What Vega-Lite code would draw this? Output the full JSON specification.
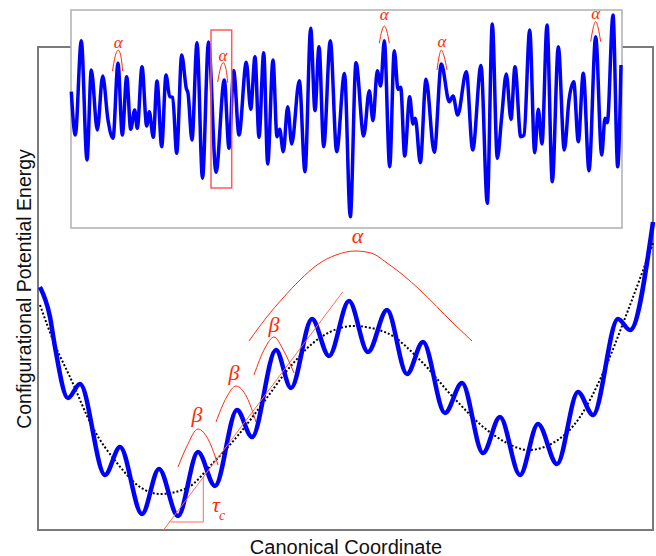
{
  "$schema": "https://vega.github.io/schema/vega-lite/v6.json",
  "width": 615,
  "height": 483,
  "autosize": {"type": "none"},
  "padding": {"left": 38, "top": 47, "right": 3, "bottom": 26},
  "background": "white",
  "config": {"view": {"stroke": null}},
  "datasets": {
    "frame": [{"x": 0, "x2": 615, "y": 0, "y2": 483}],
    "inset_box": [{"x": 33, "x2": 584, "y": 302, "y2": 520}],
    "hl_box": [{"x": 173, "x2": 193.7, "y": 342, "y2": 500}],
    "energy": [
      {"x": 2, "y": 243}, {"x": 12, "y": 213}, {"x": 17, "y": 183}, {"x": 30, "y": 132}, {"x": 42, "y": 146},
      {"x": 67, "y": 55}, {"x": 82, "y": 83}, {"x": 104, "y": 16}, {"x": 121, "y": 61}, {"x": 140, "y": 14},
      {"x": 160, "y": 78}, {"x": 177, "y": 44}, {"x": 199, "y": 120}, {"x": 214, "y": 93}, {"x": 238, "y": 180},
      {"x": 253, "y": 142}, {"x": 274, "y": 211}, {"x": 291, "y": 174}, {"x": 311, "y": 229}, {"x": 330, "y": 178},
      {"x": 349, "y": 220}, {"x": 369, "y": 156}, {"x": 385, "y": 188}, {"x": 407, "y": 117}, {"x": 424, "y": 147},
      {"x": 445, "y": 77}, {"x": 462, "y": 113}, {"x": 482, "y": 55}, {"x": 500, "y": 106}, {"x": 519, "y": 66},
      {"x": 540, "y": 138}, {"x": 555, "y": 115}, {"x": 580, "y": 211}, {"x": 592, "y": 200}, {"x": 615, "y": 308}
    ],
    "trend": [
      {"x": 2, "y": 225}, {"x": 17, "y": 185}, {"x": 32, "y": 153}, {"x": 55, "y": 102}, {"x": 79, "y": 67},
      {"x": 102, "y": 43}, {"x": 122, "y": 36}, {"x": 149, "y": 42}, {"x": 175, "y": 67}, {"x": 202, "y": 97},
      {"x": 225, "y": 127}, {"x": 252, "y": 163}, {"x": 275, "y": 187}, {"x": 292, "y": 198}, {"x": 315, "y": 204},
      {"x": 349, "y": 197}, {"x": 382, "y": 170}, {"x": 415, "y": 133}, {"x": 449, "y": 100}, {"x": 469, "y": 87},
      {"x": 490, "y": 80}, {"x": 515, "y": 87}, {"x": 542, "y": 113}, {"x": 565, "y": 157}, {"x": 589, "y": 217},
      {"x": 615, "y": 287}
    ],
    "inset": [
      {"x": 33.3, "y": 438.3}, {"x": 37.3, "y": 395}, {"x": 43.3, "y": 489.3}, {"x": 49, "y": 370}, {"x": 53.3, "y": 460},
      {"x": 59.3, "y": 400}, {"x": 64.7, "y": 454}, {"x": 70, "y": 410}, {"x": 75, "y": 391.7}, {"x": 80, "y": 466.7},
      {"x": 84.3, "y": 395}, {"x": 88.7, "y": 453.3}, {"x": 92.7, "y": 400.7}, {"x": 96.7, "y": 420}, {"x": 99.3, "y": 401.7},
      {"x": 104, "y": 463.3}, {"x": 108.7, "y": 404}, {"x": 111.3, "y": 418.3}, {"x": 115.3, "y": 392.7}, {"x": 119, "y": 449},
      {"x": 123.7, "y": 383.3}, {"x": 128, "y": 455}, {"x": 131.7, "y": 433.3}, {"x": 134.7, "y": 432.7}, {"x": 138.7, "y": 376.7},
      {"x": 143.7, "y": 475}, {"x": 148.3, "y": 441.7}, {"x": 150, "y": 436.7}, {"x": 154, "y": 390}, {"x": 159, "y": 487.3},
      {"x": 164.5, "y": 351.7}, {"x": 170.5, "y": 488}, {"x": 178, "y": 357.7}, {"x": 186.3, "y": 450}, {"x": 191, "y": 381.7},
      {"x": 195.7, "y": 459.3}, {"x": 201, "y": 395}, {"x": 208.3, "y": 467.7}, {"x": 212.7, "y": 420.7}, {"x": 217, "y": 473.3},
      {"x": 221, "y": 392.7}, {"x": 225.7, "y": 477.3}, {"x": 229.7, "y": 366}, {"x": 235, "y": 470}, {"x": 239, "y": 393.3},
      {"x": 241.7, "y": 400.7}, {"x": 245.3, "y": 378.3}, {"x": 249.7, "y": 423.3}, {"x": 253.7, "y": 386}, {"x": 261.3, "y": 449.3},
      {"x": 267, "y": 358.3}, {"x": 272.7, "y": 501.7}, {"x": 277, "y": 419.3}, {"x": 281, "y": 483.3}, {"x": 285.7, "y": 383.3},
      {"x": 292.3, "y": 489.3}, {"x": 298.7, "y": 378.3}, {"x": 306.5, "y": 456.5}, {"x": 312.3, "y": 313.3}, {"x": 318, "y": 467.3},
      {"x": 325.7, "y": 394}, {"x": 331.3, "y": 439.3}, {"x": 335, "y": 409.3}, {"x": 339.3, "y": 459.3}, {"x": 342.7, "y": 444},
      {"x": 346.3, "y": 489.3}, {"x": 351.7, "y": 363.3}, {"x": 356.3, "y": 479.3}, {"x": 360, "y": 440.7}, {"x": 362.7, "y": 442.7},
      {"x": 366.7, "y": 374}, {"x": 371.7, "y": 433.3}, {"x": 375, "y": 406}, {"x": 377.3, "y": 411.7}, {"x": 382.3, "y": 367.3},
      {"x": 388, "y": 450.7}, {"x": 396.3, "y": 377.7}, {"x": 403.3, "y": 466}, {"x": 411.3, "y": 428.3}, {"x": 415, "y": 434},
      {"x": 419.7, "y": 415}, {"x": 428.3, "y": 458.3}, {"x": 434.7, "y": 380}, {"x": 443, "y": 464.5}, {"x": 449.3, "y": 326.7},
      {"x": 454.3, "y": 506}, {"x": 459.3, "y": 371.7}, {"x": 463.7, "y": 413.3}, {"x": 468.3, "y": 456}, {"x": 473, "y": 410.7},
      {"x": 477, "y": 463.3}, {"x": 482.7, "y": 393.3}, {"x": 486, "y": 395}, {"x": 491.7, "y": 500}, {"x": 496.7, "y": 377.3},
      {"x": 500.3, "y": 420.7}, {"x": 504, "y": 386}, {"x": 509, "y": 505}, {"x": 514.3, "y": 348.3}, {"x": 520.3, "y": 483.3},
      {"x": 526.3, "y": 380}, {"x": 531, "y": 430}, {"x": 535.7, "y": 448.3}, {"x": 540.3, "y": 388.3}, {"x": 545.3, "y": 456.7},
      {"x": 551, "y": 359.3}, {"x": 557.7, "y": 493.3}, {"x": 563.7, "y": 375}, {"x": 567, "y": 411.7}, {"x": 569.3, "y": 407.3},
      {"x": 575, "y": 515}, {"x": 579.7, "y": 363.3}, {"x": 583, "y": 465}
    ],
    "arcs": [
      {"id": "alpha", "x": 211, "y": 189}, {"id": "alpha", "x": 228, "y": 212}, {"id": "alpha", "x": 245, "y": 232},
      {"id": "alpha", "x": 262, "y": 250}, {"id": "alpha", "x": 279, "y": 265}, {"id": "alpha", "x": 298, "y": 275},
      {"id": "alpha", "x": 317, "y": 279}, {"id": "alpha", "x": 333, "y": 277}, {"id": "alpha", "x": 349, "y": 267},
      {"id": "alpha", "x": 365, "y": 255}, {"id": "alpha", "x": 382, "y": 240}, {"id": "alpha", "x": 415, "y": 207},
      {"id": "alpha", "x": 434, "y": 189},
      {"id": "b1", "x": 140, "y": 63}, {"id": "b1", "x": 149, "y": 84}, {"id": "b1", "x": 160, "y": 101}, {"id": "b1", "x": 171, "y": 89}, {"id": "b1", "x": 180, "y": 65},
      {"id": "b2", "x": 178, "y": 108}, {"id": "b2", "x": 188.7, "y": 133}, {"id": "b2", "x": 198, "y": 144}, {"id": "b2", "x": 208.7, "y": 133}, {"id": "b2", "x": 218, "y": 108},
      {"id": "b3", "x": 216, "y": 155}, {"id": "b3", "x": 227, "y": 182}, {"id": "b3", "x": 236, "y": 193}, {"id": "b3", "x": 245.3, "y": 180}, {"id": "b3", "x": 256, "y": 157},
      {"id": "a1", "x": 74.5, "y": 459}, {"id": "a1", "x": 77, "y": 473}, {"id": "a1", "x": 80.3, "y": 480}, {"id": "a1", "x": 83, "y": 473}, {"id": "a1", "x": 84.7, "y": 459},
      {"id": "a2", "x": 179.7, "y": 448}, {"id": "a2", "x": 182.5, "y": 462}, {"id": "a2", "x": 185.3, "y": 467.3}, {"id": "a2", "x": 187.8, "y": 462}, {"id": "a2", "x": 189.7, "y": 447.3},
      {"id": "a3", "x": 341.3, "y": 486.7}, {"id": "a3", "x": 343.8, "y": 499}, {"id": "a3", "x": 346.3, "y": 504}, {"id": "a3", "x": 348.8, "y": 499}, {"id": "a3", "x": 351.3, "y": 486.7},
      {"id": "a4", "x": 399, "y": 460}, {"id": "a4", "x": 401.2, "y": 474}, {"id": "a4", "x": 403.3, "y": 480}, {"id": "a4", "x": 406, "y": 474}, {"id": "a4", "x": 409, "y": 460},
      {"id": "a5", "x": 552.7, "y": 488.3}, {"id": "a5", "x": 555.2, "y": 502}, {"id": "a5", "x": 557.7, "y": 508.3}, {"id": "a5", "x": 560.2, "y": 502}, {"id": "a5", "x": 562.7, "y": 488.3}
    ],
    "segments": [
      {"x": 125.5, "y": 0, "x2": 304.7, "y2": 238},
      {"x": 132.5, "y": 8, "x2": 165.3, "y2": 8},
      {"x": 165.3, "y": 8, "x2": 165.3, "y2": 53}
    ],
    "labels": [
      {"group": "big", "text": "α", "x": 319.5, "y": 287},
      {"group": "big", "text": "β", "x": 159, "y": 108},
      {"group": "big", "text": "β", "x": 196, "y": 150},
      {"group": "big", "text": "β", "x": 236, "y": 198},
      {"group": "big", "text": "τ", "x": 178, "y": 18.5},
      {"group": "sub", "text": "c", "x": 184, "y": 10},
      {"group": "inset", "text": "α", "x": 80.3, "y": 481.7},
      {"group": "inset", "text": "α", "x": 185, "y": 469.3},
      {"group": "inset", "text": "α", "x": 346.3, "y": 510},
      {"group": "inset", "text": "α", "x": 404, "y": 482.7},
      {"group": "inset", "text": "α", "x": 557.7, "y": 510.7}
    ]
  },
  "encoding": {
    "x": {
      "field": "x", "type": "quantitative",
      "scale": {"domain": [0, 615], "nice": false, "zero": false},
      "axis": {"title": "Canonical Coordinate", "domain": false, "ticks": false, "labels": false, "grid": false,
        "titleFont": "Liberation Sans", "titleFontSize": 20, "titleFontWeight": "normal", "titleColor": "#111", "titlePadding": 7}
    },
    "y": {
      "field": "y", "type": "quantitative",
      "scale": {"domain": [0, 483], "nice": false, "zero": false},
      "axis": {"title": "Configurational Potential Energy", "domain": false, "ticks": false, "labels": false, "grid": false,
        "titleFont": "Liberation Sans", "titleFontSize": 19.5, "titleFontWeight": "normal", "titleColor": "#111", "titlePadding": 4}
    }
  },
  "layer": [
    {
      "data": {"name": "frame"},
      "mark": {"type": "rect", "fill": null, "fillOpacity": 0, "stroke": "#7a7a7a", "strokeWidth": 2},
      "encoding": {"x2": {"field": "x2"}, "y2": {"field": "y2"}}
    },
    {
      "data": {"name": "trend"},
      "mark": {"type": "line", "color": "#000000", "strokeWidth": 2, "strokeDash": [2, 2], "interpolate": "monotone"}
    },
    {
      "data": {"name": "energy"},
      "mark": {"type": "line", "color": "#0000ff", "strokeWidth": 4.5, "interpolate": "monotone"}
    },
    {
      "data": {"name": "segments"},
      "mark": {"type": "rule", "color": "#ff6a5a", "strokeWidth": 1},
      "encoding": {"x2": {"field": "x2"}, "y2": {"field": "y2"}}
    },
    {
      "data": {"name": "inset_box"},
      "mark": {"type": "rect", "fill": "#ffffff", "stroke": "#b0b0b0", "strokeWidth": 1.5},
      "encoding": {"x2": {"field": "x2"}, "y2": {"field": "y2"}}
    },
    {
      "data": {"name": "inset"},
      "mark": {"type": "line", "color": "#0000ff", "strokeWidth": 3.5, "interpolate": "monotone"}
    },
    {
      "data": {"name": "hl_box"},
      "mark": {"type": "rect", "fill": null, "fillOpacity": 0, "stroke": "#ff5a5a", "strokeWidth": 1.5},
      "encoding": {"x2": {"field": "x2"}, "y2": {"field": "y2"}}
    },
    {
      "data": {"name": "arcs"},
      "mark": {"type": "line", "color": "#ff2a10", "strokeWidth": 1, "interpolate": "monotone"},
      "encoding": {"detail": {"field": "id"}}
    },
    {
      "data": {"name": "labels"},
      "transform": [{"filter": "datum.group === 'big'"}],
      "mark": {"type": "text", "font": "Liberation Serif", "fontStyle": "italic", "fontSize": 22, "color": "#ff2a00", "align": "center", "baseline": "alphabetic"},
      "encoding": {"text": {"field": "text"}}
    },
    {
      "data": {"name": "labels"},
      "transform": [{"filter": "datum.group === 'sub'"}],
      "mark": {"type": "text", "font": "Liberation Serif", "fontStyle": "italic", "fontSize": 14, "color": "#ff2a00", "align": "center", "baseline": "alphabetic"},
      "encoding": {"text": {"field": "text"}}
    },
    {
      "data": {"name": "labels"},
      "transform": [{"filter": "datum.group === 'inset'"}],
      "mark": {"type": "text", "font": "Liberation Serif", "fontStyle": "italic", "fontSize": 17, "color": "#ff2a00", "align": "center", "baseline": "alphabetic"},
      "encoding": {"text": {"field": "text"}}
    }
  ]
}
